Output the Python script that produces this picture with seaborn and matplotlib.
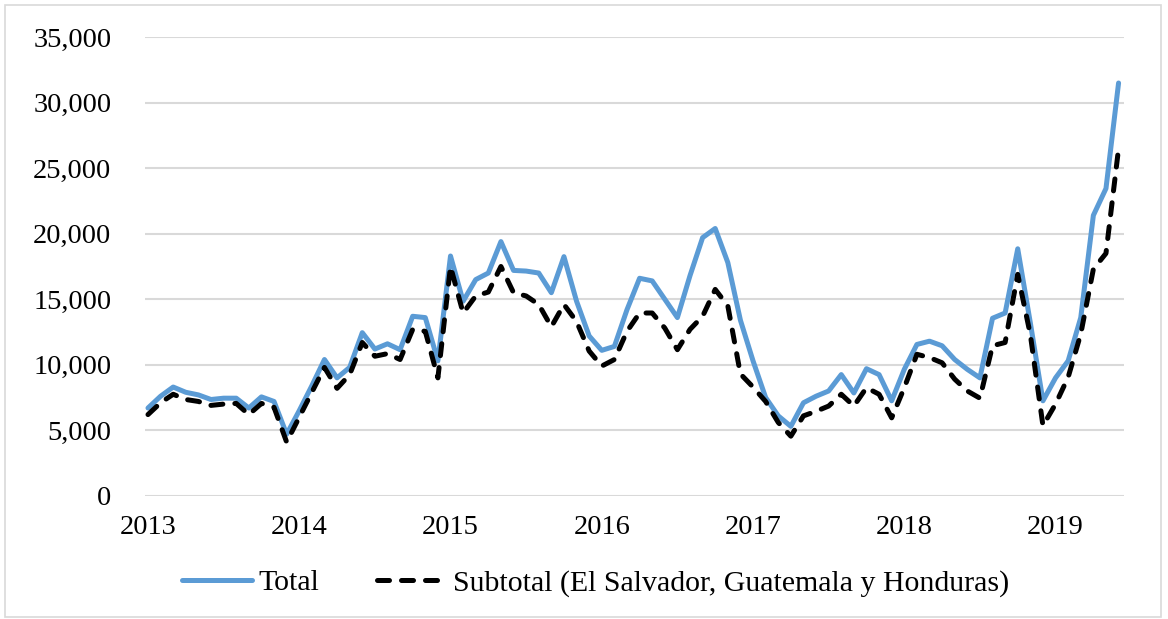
import numpy as np
import pandas as pd
import matplotlib.pyplot as plt
import seaborn as sns
from matplotlib.patches import Rectangle

# Monthly values, Jan 2013 - Jun 2019
total = [6700, 7600, 8300, 7900, 7700, 7350, 7450, 7450, 6700, 7550, 7200, 4700,
         6500, 8400, 10400, 9000, 9800, 12450, 11200, 11600, 11150, 13700, 13600, 10300,
         18300, 14850, 16500, 17000, 19400, 17200, 17150, 17000, 15500, 18250, 14850, 12200,
         11100, 11400, 14200, 16600, 16400, 15000, 13600, 16800, 19700, 20400, 17800, 13400,
         10300, 7500, 6100, 5300, 7100, 7600, 8000, 9250, 7850, 9700, 9250, 7250,
         9650, 11550, 11800, 11450, 10400, 9650, 9000, 13550, 13950, 18850, 13200, 7250,
         9000, 10300, 13600, 21400, 23450, 31500]
subtotal = [6200, 7100, 7750, 7350, 7200, 6900, 7000, 7050, 6200, 7050, 6750, 4100,
            6000, 7900, 9800, 8200, 9250, 11700, 10650, 10850, 10400, 12700, 12550, 9000,
            17500, 13950, 15250, 15550, 17500, 15500, 15250, 14600, 12900, 14600, 13300, 11050,
            9900, 10400, 12550, 13950, 13950, 12800, 11150, 12700, 13700, 15750, 14500, 9300,
            8300, 7200, 5600, 4550, 6100, 6450, 6850, 7750, 6850, 8250, 7750, 5950,
            8250, 10800, 10550, 10150, 8900, 8000, 7450, 11450, 11700, 16900, 12300, 5350,
            7000, 9050, 12350, 17300, 18500, 26500]
years = ['2013', '2014', '2015', '2016', '2017', '2018', '2019']

df = pd.DataFrame({'mes': np.arange(len(total)), 'Total': total, 'Subtotal': subtotal})

sns.set_style('white')
plt.rcParams['font.family'] = ['Liberation Serif', 'DejaVu Serif']
plt.rcParams['text.color'] = 'black'
plt.rcParams['xtick.color'] = 'black'
plt.rcParams['ytick.color'] = 'black'

fig = plt.figure(figsize=(11.68, 6.19), dpi=100)
ax = fig.add_axes([0.124, 0.199, 0.838, 0.741])

sns.lineplot(data=df, x='mes', y='Total', ax=ax, color='#5B9BD5', linewidth=3.6,
             solid_capstyle='round', label='Total')
sns.lineplot(data=df, x='mes', y='Subtotal', ax=ax, color='black', linewidth=3.6,
             linestyle=(0, (2.4, 2.4)), dash_capstyle='round',
             label='Subtotal (El Salvador, Guatemala y Honduras)')

ax.set_ylim(0, 35000)
ax.set_xlim(-0.25, 77.4)
ax.set_yticks(np.arange(0, 35001, 5000))
ax.set_yticklabels([f'{v:,}' for v in range(0, 35001, 5000)], fontsize=20.5)
ax.set_xticks(np.arange(0, 73, 12))
ax.set_xticklabels(years, fontsize=20.5)
ax.tick_params(axis='y', length=0, pad=24, labelcolor='black')
ax.tick_params(axis='x', length=0, pad=14, labelcolor='black')
ax.yaxis.grid(True, color='#D9D9D9', linewidth=1.5)
ax.xaxis.grid(False)
ax.set_axisbelow(True)
for s in ax.spines.values():
    s.set_visible(False)
ax.set_xlabel('')
ax.set_ylabel('')

ax.get_legend().remove()
h, l = ax.get_legend_handles_labels()
fig.legend(h, l, loc='center', bbox_to_anchor=(0.51, 0.058), ncol=2, frameon=False,
           fontsize=21.5, handlelength=2.35, handletextpad=0.2, columnspacing=1.95,
           labelcolor='black')

# light frame round the chart
fig.patches.append(Rectangle((0.004, 0.004), 0.99, 0.988, transform=fig.transFigure,
                             fill=False, edgecolor='#D9D9D9', linewidth=1.2))

plt.savefig('out.png', dpi=100)
